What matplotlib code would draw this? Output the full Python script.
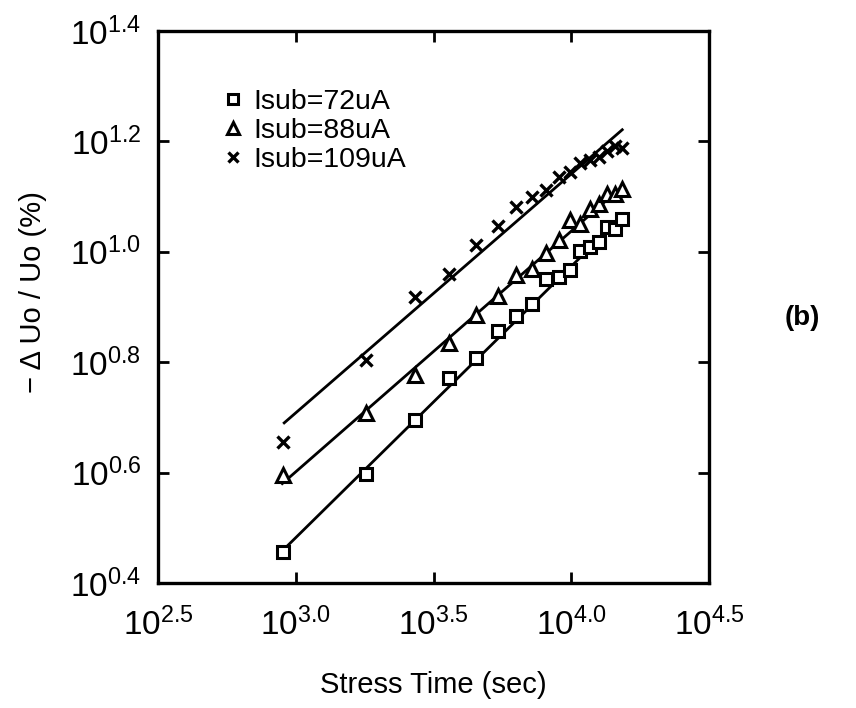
import numpy as np
import matplotlib
matplotlib.use("Agg")
import matplotlib.pyplot as plt

plt.rcParams['font.family'] = ['Liberation Sans', 'DejaVu Sans']
plt.rcParams['mathtext.fontset'] = 'custom'
plt.rcParams['mathtext.rm'] = 'Liberation Sans'
plt.rcParams['mathtext.it'] = 'Liberation Sans'
plt.rcParams['mathtext.bf'] = 'Liberation Sans:bold'

# stress times (s)
time_s = [900, 1800, 2700, 3600, 4500, 5400, 6300, 7200, 8100, 9000,
          9900, 10800, 11700, 12600, 13500, 14400, 15300]

# log10(-dUo/Uo %)
log_72 = [0.457, 0.598, 0.695, 0.771, 0.807, 0.857, 0.883, 0.905, 0.951, 0.955,
          0.967, 1.002, 1.009, 1.018, 1.045, 1.042, 1.060]
log_88 = [0.595, 0.707, 0.776, 0.834, 0.885, 0.920, 0.957, 0.968, 0.997, 1.021,
          1.057, 1.051, 1.077, 1.087, 1.104, 1.104, 1.113]
log_109 = [0.655, 0.804, 0.918, 0.959, 1.013, 1.047, 1.081, 1.099, 1.111, 1.135,
           1.145, 1.160, 1.166, 1.172, 1.182, 1.191, 1.188]

# fitted line end points (log10 time, log10 value)
fit_logx_109 = [2.958, 4.185]
fit_logy_109 = [0.690, 1.221]
fit_logx_88 = [2.951, 4.185]
fit_logy_88 = [0.580, 1.118]
fit_logx_72 = [2.955, 4.190]
fit_logy_72 = [0.460, 1.067]

labels = ['Isub=72uA', 'Isub=88uA', 'Isub=109uA']
xtick_exp = ['2.5', '3.0', '3.5', '4.0', '4.5']
ytick_exp = ['0.4', '0.6', '0.8', '1.0', '1.2', '1.4']

fig = plt.figure(figsize=(8.56, 7.08), dpi=100)
ax = fig.add_axes([0.1846, 0.1766, 0.6437, 0.7797])

t = np.array(time_s)
ms = 9
ax.plot(t, 10 ** np.array(log_72), linestyle='none', marker='s', ms=ms,
        mfc='white', mec='black', mew=2.2, label=labels[0], zorder=3)
ax.plot(t, 10 ** np.array(log_88), linestyle='none', marker='^', ms=ms + 1,
        mfc='white', mec='black', mew=2.2, label=labels[1], zorder=3)
ax.plot(t, 10 ** np.array(log_109), linestyle='none', marker='x', ms=ms - 0.5,
        mec='black', mew=2.4, label=labels[2], zorder=3)

for fx, fy in [(fit_logx_72, fit_logy_72), (fit_logx_88, fit_logy_88),
               (fit_logx_109, fit_logy_109)]:
    ax.plot(10 ** np.array(fx), 10 ** np.array(fy), color='black', lw=2.0, zorder=2)

ax.set_xscale('log')
ax.set_yscale('log')
ax.set_xlim(10 ** 2.5, 10 ** 4.5)
ax.set_ylim(10 ** 0.4, 10 ** 1.4)
ax.minorticks_off()
ax.set_xticks([10 ** float(e) for e in xtick_exp])
ax.set_xticklabels([r'$\mathregular{10^{%s}}$' % e for e in xtick_exp])
ax.set_yticks([10 ** float(e) for e in ytick_exp])
ax.set_yticklabels([r'$\mathregular{10^{%s}}$' % e for e in ytick_exp])
ax.minorticks_off()
ax.tick_params(axis='both', which='major', direction='in', length=8, width=2,
               top=True, right=True, labelsize=24)
ax.tick_params(axis='x', pad=18)
ax.tick_params(axis='y', pad=12)
for s in ax.spines.values():
    s.set_linewidth(2.4)

fig.text(433 / 856, 1 - 685 / 708, 'Stress Time (sec)', ha='center', va='center', fontsize=21)
fig.text(33 / 856, 1 - 292 / 708, '\u2212 \u0394 Uo / Uo (%)', ha='center', va='center',
         rotation=90, fontsize=21)
fig.text(802 / 856, 1 - 318 / 708, '(b)', ha='center', va='center', fontsize=20,
         fontweight='bold')

leg = ax.legend(loc='upper left', bbox_to_anchor=(0.1, 0.915), frameon=False,
                fontsize=20.5, handlelength=0.6, handletextpad=0.4, labelspacing=0.1,
                markerscale=0.8, borderaxespad=0)

fig.savefig('out.png', dpi=100)
